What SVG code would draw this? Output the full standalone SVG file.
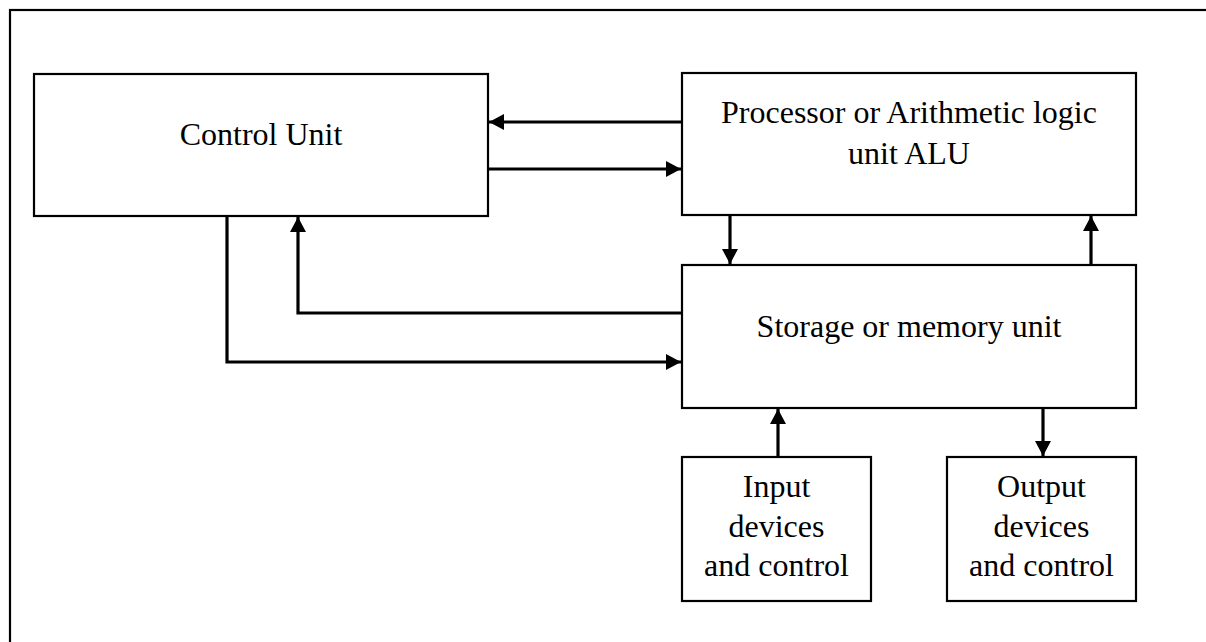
<svg xmlns="http://www.w3.org/2000/svg" width="1206" height="642" viewBox="0 0 1206 642">
  <style>
    .box { fill: #ffffff; stroke: #000000; stroke-width: 2.2; }
    .lbl { font-family: "Liberation Serif", "Times New Roman", serif; font-size: 32px; fill: #000000; text-anchor: middle; }
    .conn { fill: none; stroke: #000000; stroke-width: 3.2; }
  </style>
  <defs>
    <marker id="arrow" markerUnits="userSpaceOnUse" markerWidth="16" markerHeight="16" refX="15" refY="8" orient="auto">
      <path d="M0,0 L15,8 L0,16 z" fill="#000000"/>
    </marker>
  </defs>
  <rect width="1206" height="642" fill="#ffffff"/>
  <rect id="frame" x="10" y="10" width="1240" height="700" fill="none" stroke="#000000" stroke-width="2.2"/>

  <g id="control-unit">
    <rect class="box" x="34" y="74" width="454" height="142"/>
    <text class="lbl" x="261" y="145">Control Unit</text>
  </g>
  <g id="alu">
    <rect class="box" x="682" y="73" width="454" height="142"/>
    <text class="lbl" x="909" y="123">Processor or Arithmetic logic</text>
    <text class="lbl" x="909" y="164">unit ALU</text>
  </g>
  <g id="storage">
    <rect class="box" x="682" y="265" width="454" height="143"/>
    <text class="lbl" x="909" y="337">Storage or memory unit</text>
  </g>
  <g id="input">
    <rect class="box" x="682" y="457" width="189" height="144"/>
    <text class="lbl" x="776.5" y="497">Input</text>
    <text class="lbl" x="776.5" y="537">devices</text>
    <text class="lbl" x="776.5" y="576">and control</text>
  </g>
  <g id="output">
    <rect class="box" x="947" y="457" width="189" height="144"/>
    <text class="lbl" x="1041.5" y="497">Output</text>
    <text class="lbl" x="1041.5" y="537">devices</text>
    <text class="lbl" x="1041.5" y="576">and control</text>
  </g>

  <g id="connectors">
    <line class="conn" x1="682" y1="122" x2="489" y2="122" marker-end="url(#arrow)"/>
    <line class="conn" x1="488" y1="169" x2="681" y2="169" marker-end="url(#arrow)"/>
    <line class="conn" x1="730" y1="215" x2="730" y2="264" marker-end="url(#arrow)"/>
    <line class="conn" x1="1091" y1="265" x2="1091" y2="216" marker-end="url(#arrow)"/>
    <polyline class="conn" points="681,313 298,313 298,217" marker-end="url(#arrow)"/>
    <polyline class="conn" points="227,216 227,362 681,362" marker-end="url(#arrow)"/>
    <line class="conn" x1="778" y1="457" x2="778" y2="409" marker-end="url(#arrow)"/>
    <line class="conn" x1="1043" y1="408" x2="1043" y2="456" marker-end="url(#arrow)"/>
  </g>
</svg>
